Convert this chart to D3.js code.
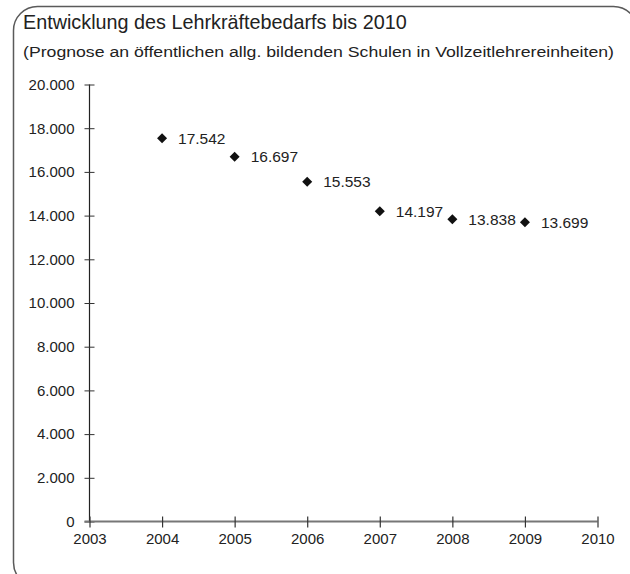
<!DOCTYPE html>
<html>
<head>
<meta charset="utf-8">
<script src="https://cdn.jsdelivr.net/npm/d3@7"></script>
<style>
  html, body { margin: 0; padding: 0; background: #fff; }
  svg { display: block; font-family: "Liberation Sans", Arial, sans-serif; }
</style>
</head>
<body>
<svg id="chart" width="630" height="574"></svg>
<script>
// Lehrkräftebedarf (Vollzeitlehrereinheiten) je Jahr
const years = [2004, 2005, 2006, 2007, 2008, 2009];
const values = [17542, 16697, 15553, 14197, 13838, 13699];
const yTicks = [0, 2000, 4000, 6000, 8000, 10000, 12000, 14000, 16000, 18000, 20000];
const xTicks = [2003, 2004, 2005, 2006, 2007, 2008, 2009, 2010];
const title = "Entwicklung des Lehrkräftebedarfs bis 2010";
const subtitle = "(Prognose an öffentlichen allg. bildenden Schulen in Vollzeitlehrereinheiten)";

const de = d3.formatLocale({ decimal: ",", thousands: ".", grouping: [3], currency: ["", " €"] });
const fmt = de.format(",d");

const svg = d3.select("#chart");

// Rahmen mit abgerundeten Ecken
svg.append("rect")
  .attr("x", 13.5).attr("y", 6.5)
  .attr("width", 624).attr("height", 580)
  .attr("rx", 24).attr("ry", 24)
  .attr("fill", "none").attr("stroke", "#5a5a5a").attr("stroke-width", 1.5);

svg.append("text")
  .attr("x", 23).attr("y", 29)
  .attr("font-size", 19.8).attr("fill", "#222")
  .text(title);
svg.append("text")
  .attr("x", 23).attr("y", 57)
  .attr("font-size", 15.5).attr("fill", "#222")
  .attr("textLength", 591).attr("lengthAdjust", "spacingAndGlyphs")
  .text(subtitle);

const x = d3.scaleLinear().domain([2003, 2010]).range([89.5, 597.5]);
const y = d3.scaleLinear().domain([0, 20000]).range([521.5, 84.5]);

// y-Achse
const gy = svg.append("g").attr("transform", `translate(${x(2003)},0)`)
  .call(d3.axisLeft(y).tickValues(yTicks).tickFormat(fmt).tickSizeOuter(0));
gy.select(".domain").attr("stroke", "#222").attr("stroke-width", 1.2)
  .attr("d", `M0,${y(20000)}V${y(0)}`);
gy.selectAll(".tick line").attr("x1", -5).attr("x2", 5).attr("stroke", "#333").attr("stroke-width", 1);
gy.selectAll(".tick text").attr("x", -15).attr("font-size", 15).attr("fill", "#222")
  .attr("font-family", "Liberation Sans, Arial, sans-serif");

// x-Achse
const gx = svg.append("g").attr("transform", `translate(0,${y(0)})`)
  .call(d3.axisBottom(x).tickValues(xTicks).tickFormat(d3.format("d")).tickSizeOuter(0));
gx.select(".domain").attr("stroke", "#777").attr("stroke-width", 2)
  .attr("d", `M${x(2003) - 5},0H${x(2010)}`);
gx.selectAll(".tick line").attr("y1", -5).attr("y2", 6).attr("stroke", "#333").attr("stroke-width", 1.2);
gx.selectAll(".tick text").attr("y", 12).attr("dy", "0.71em").attr("font-size", 15).attr("fill", "#222")
  .attr("font-family", "Liberation Sans, Arial, sans-serif");

// Datenpunkte (Rauten) mit Beschriftung
const pts = svg.append("g");
pts.selectAll("path").data(years).join("path")
  .attr("d", d3.symbol(d3.symbolDiamond2, 64))
  .attr("transform", (d, i) => `translate(${x(d)},${y(values[i])})`)
  .attr("fill", "#111");
pts.selectAll("text").data(years).join("text")
  .attr("x", d => x(d) + 16)
  .attr("y", (d, i) => y(values[i]))
  .attr("dy", "0.35em")
  .attr("font-size", 15.5).attr("fill", "#222")
  .text((d, i) => fmt(values[i]));
</script>
</body>
</html>
